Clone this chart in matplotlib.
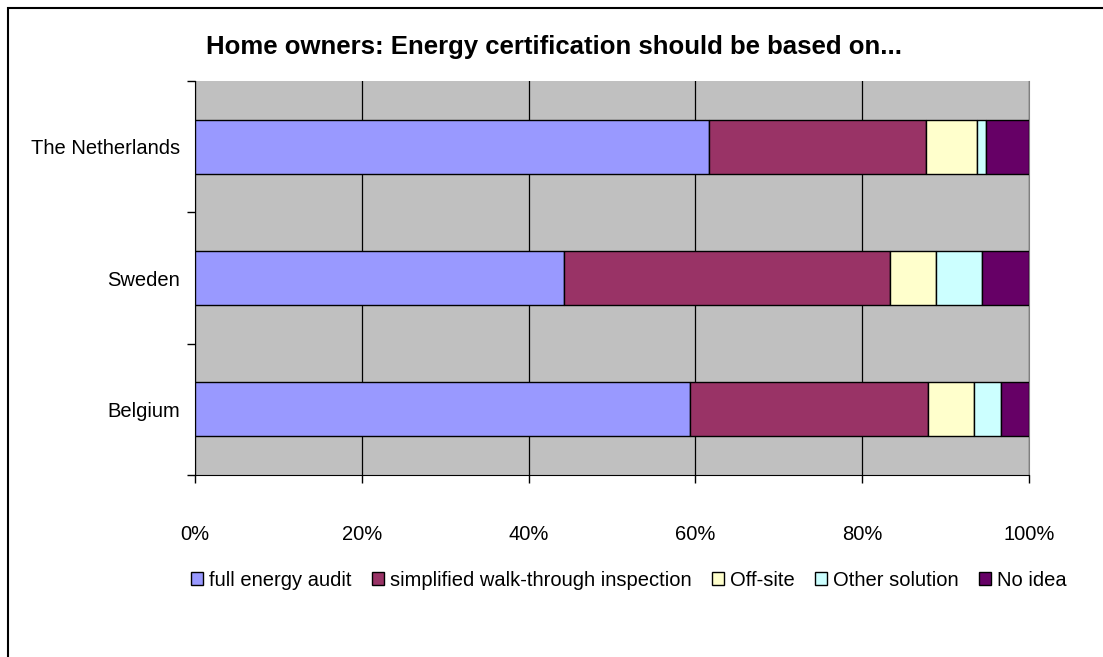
import matplotlib
matplotlib.use("Agg")
import matplotlib.pyplot as plt
from matplotlib.patches import Rectangle
from matplotlib.ticker import FuncFormatter, FixedLocator
import numpy as np

plt.rcParams['font.family'] = ['Liberation Sans', 'DejaVu Sans']

countries = ["Belgium", "Sweden", "The Netherlands"]
series_names = ["full energy audit", "simplified walk-through inspection",
                "Off-site", "Other solution", "No idea"]
full_audit = [59.3, 44.3, 61.6]
walk_through = [28.6, 39.0, 26.1]
off_site = [5.5, 5.5, 6.1]
other_solution = [3.2, 5.6, 1.1]
no_idea = [3.4, 5.6, 5.1]
colors = ["#9999FF", "#993366", "#FFFFCC", "#CCFFFF", "#660066"]
x_ticks = [0, 20, 40, 60, 80, 100]

fig = plt.figure(figsize=(11.03, 6.57), dpi=100)
fig.patch.set_facecolor("white")

# outer chart border
fig.add_artist(Rectangle((8 / 1103, -0.05), 1.2, 1 - 8 / 657 + 0.05,
                         transform=fig.transFigure, fill=False,
                         edgecolor="black", linewidth=1.5))

ax = fig.add_axes([195 / 1103, 1 - 475 / 657, 834 / 1103, 394 / 657])
ax.set_facecolor("#C0C0C0")

y = np.arange(len(countries))
left = np.zeros(len(countries))
for vals, name, col in zip([full_audit, walk_through, off_site, other_solution, no_idea],
                           series_names, colors):
    ax.barh(y, vals, left=left, height=0.41, color=col, edgecolor="black",
            linewidth=1.0, label=name, zorder=3)
    left += np.array(vals)

ax.set_xlim(0, 100)
ax.set_ylim(-0.5, 2.5)
ax.xaxis.set_major_locator(FixedLocator(x_ticks))
ax.xaxis.set_major_formatter(FuncFormatter(lambda v, p: f"{int(v)}%"))
ax.set_yticks(y)
ax.set_yticklabels(countries)
ax.set_yticks([-0.5, 0.5, 1.5, 2.5], minor=True)
ax.tick_params(axis="y", which="major", length=0, pad=11, labelsize=14.5)
ax.tick_params(axis="y", which="minor", length=6, width=1, direction="out")
ax.tick_params(axis="x", length=6, width=1, direction="out", pad=30, labelsize=14.5)

ax.grid(axis="x", color="black", linewidth=0.9, zorder=1)
ax.set_axisbelow(True)
ax.spines["top"].set_visible(False)
ax.spines["right"].set_color("#808080")
ax.spines["left"].set_color("black")
ax.spines["bottom"].set_color("black")

fig.text(554 / 1103, 1 - 47 / 657, "Home owners: Energy certification should be based on...",
         ha="center", va="center", fontsize=18.5, fontweight="bold")

handles, labels = ax.get_legend_handles_labels()
fig.legend(handles, labels, loc="center", bbox_to_anchor=(629 / 1103, 1 - 580 / 657),
           ncol=5, frameon=False, fontsize=14.5, handlelength=0.6, handleheight=0.6,
           handletextpad=0.3, columnspacing=1.0)

fig.savefig("out.png", dpi=100)
